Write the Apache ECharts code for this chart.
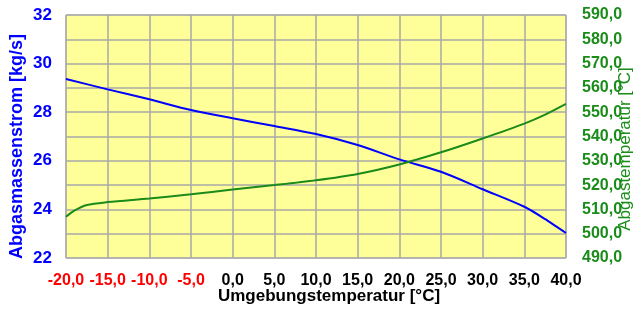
<!DOCTYPE html>
<html>
<head>
<meta charset="utf-8">
<script src="https://cdn.jsdelivr.net/npm/echarts@6/dist/echarts.min.js"></script>
<style>
  html, body { margin: 0; padding: 0; background: #fff; }
  #chart { width: 643px; height: 309px; }
</style>
</head>
<body>
<div id="chart"></div>
<script>
// Umgebungstemperatur [°C]
const tempMass = [-20, -15, -10, -5, 0, 5, 10, 15, 20, 25, 30, 35, 37.5, 40]
// Abgasmassenstrom [kg/s]
const massFlow = [29.37, 28.94, 28.53, 28.09, 27.75, 27.43, 27.1, 26.65, 26.06, 25.55, 24.83, 24.11, 23.6, 23.03]
const tempExh = [-20, -19, -17.5, -15, -10, -5, 0, 5, 10, 15, 20, 25, 30, 35, 37.5, 40]
// Abgastemperatur [°C]
const exhTemp = [507, 509.5, 511.8, 513, 514.5, 516.2, 518.2, 520, 522, 524.6, 528.5, 533.5, 539.2, 545.3, 549, 553.4]

const fmt = v => v.toFixed(1).replace('.', ',')
const font = 'Liberation Sans'

const myChart = echarts.init(document.getElementById('chart'))
const option = {
  animation: false,
  grid: {
    left: 66,
    right: 77,
    top: 15,
    bottom: 51,
    outerBoundsMode: 'none',
    show: true,
    backgroundColor: '#ffff99',
    borderColor: '#b4b4b4',
    borderWidth: 1
  },
  xAxis: {
    type: 'value',
    min: -20,
    max: 40,
    interval: 5,
    name: 'Umgebungstemperatur [°C]',
    nameLocation: 'middle',
    nameGap: 30,
    nameMoveOverlap: false,
    nameTextStyle: { color: '#000', fontWeight: 'bold', fontSize: 17, fontFamily: font, padding: [0, 0, 0, 26] },
    axisLine: { show: false },
    axisTick: { show: false },
    axisLabel: {
      margin: 15,
      fontSize: 16,
      fontWeight: 'bold',
      fontFamily: font,
      formatter: v => (v < 0 ? '{r|' + fmt(v) + '}' : '{b|' + fmt(v) + '}'),
      rich: {
        r: { color: '#ff0000', fontSize: 16, fontWeight: 'bold', fontFamily: font },
        b: { color: '#000', fontSize: 16, fontWeight: 'bold', fontFamily: font }
      }
    },
    splitLine: { show: true, lineStyle: { color: '#a8a8a8', width: 1.5 } }
  },
  yAxis: [
    {
      type: 'value',
      min: 22,
      max: 32,
      interval: 2,
      position: 'left',
      name: 'Abgasmassenstrom [kg/s]',
      nameLocation: 'middle',
      nameRotate: 90,
      nameGap: 40,
      nameMoveOverlap: false,
      nameTextStyle: { color: '#0000ff', fontWeight: 'bold', fontSize: 18, fontFamily: font, padding: [0, 20, 0, 0] },
      axisLine: { show: false },
      axisTick: { show: false },
      splitLine: { show: false },
      axisLabel: { color: '#0000ff', fontWeight: 'bold', fontSize: 17, fontFamily: font, margin: 14 }
    },
    {
      type: 'value',
      min: 490,
      max: 590,
      interval: 10,
      position: 'right',
      name: 'Abgastemperatur [°C]',
      nameLocation: 'middle',
      nameRotate: 90,
      nameGap: 51,
      nameMoveOverlap: false,
      nameTextStyle: { color: '#1a8c1a', fontSize: 17, fontFamily: font, padding: [0, 25, 0, 0] },
      axisLine: { show: false },
      axisTick: { show: false },
      splitLine: { show: true, lineStyle: { color: '#a8a8a8', width: 1.5 } },
      axisLabel: { color: '#1a8c1a', fontWeight: 'bold', fontSize: 16, fontFamily: font, margin: 16, formatter: fmt }
    }
  ],
  series: [
    {
      name: 'Abgasmassenstrom',
      type: 'line',
      yAxisIndex: 0,
      smooth: 0.3,
      showSymbol: false,
      lineStyle: { color: '#0000ff', width: 2 },
      data: tempMass.map((t, i) => [t, massFlow[i]])
    },
    {
      name: 'Abgastemperatur',
      type: 'line',
      yAxisIndex: 1,
      smooth: 0.3,
      showSymbol: false,
      lineStyle: { color: '#1a8a1a', width: 2 },
      data: tempExh.map((t, i) => [t, exhTemp[i]])
    }
  ]
}
myChart.setOption(option)
</script>
</body>
</html>
